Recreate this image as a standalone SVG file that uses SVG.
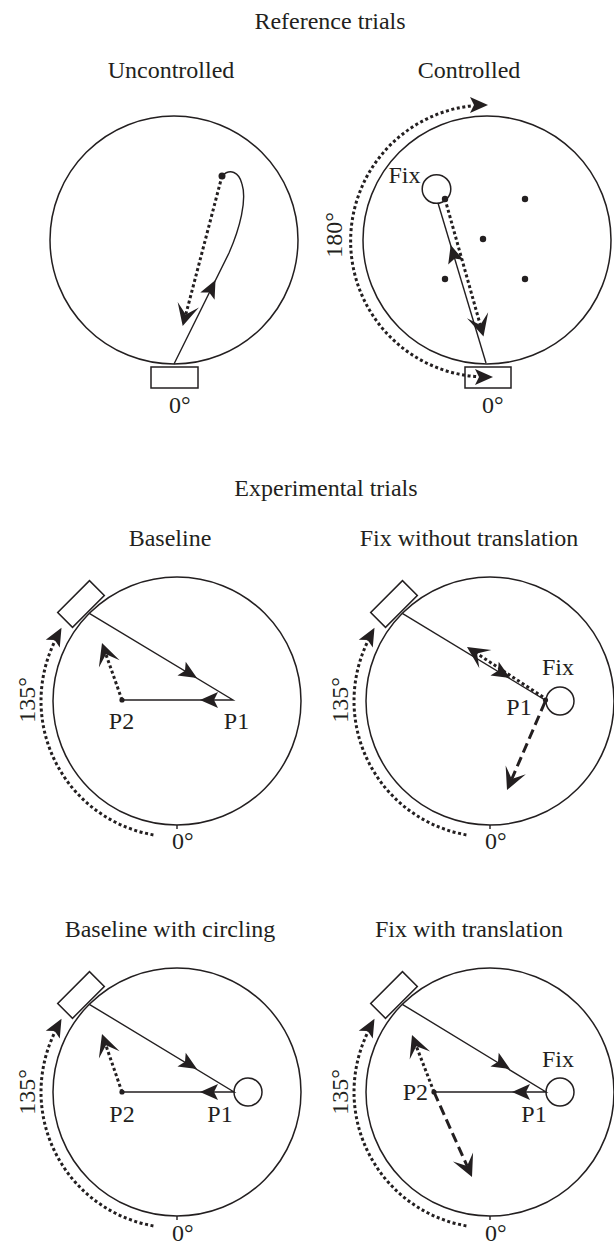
<svg xmlns="http://www.w3.org/2000/svg" width="614" height="1245" viewBox="0 0 614 1245">
<style>
.circ{fill:none;stroke:#231f20;stroke-width:1.5}
.ln{fill:none;stroke:#231f20;stroke-width:1.4}
.dt{fill:none;stroke:#231f20;stroke-width:3;stroke-dasharray:3 2.6}
.ds{fill:none;stroke:#231f20;stroke-width:3;stroke-dasharray:10 5}
.box{fill:none;stroke:#231f20;stroke-width:1.5}
.fill{fill:#231f20}
.t{font-family:"Liberation Serif","Times New Roman",serif;font-size:24px;fill:#231f20}
.m{text-anchor:middle}
.e{text-anchor:end}
</style>
<defs>
<path id="tri" d="M0,0 L-18,-8 L-14,0 L-18,8 Z" fill="#231f20"/>
<path id="vee" d="M0,0 L-22,-11 L-12,0 L-22,11 Z" fill="#231f20"/>
<rect id="bx" x="-22.5" y="-10.5" width="45" height="21" fill="none" stroke="#231f20" stroke-width="1.5"/>
</defs>

<g id="titles">
<text class="t m" x="330" y="29">Reference trials</text>
<text class="t m" x="326" y="496">Experimental trials</text>
</g>

<!-- Uncontrolled -->
<g id="uncontrolled">
<text class="t m" x="171" y="78">Uncontrolled</text>
<circle class="circ" cx="174" cy="240" r="124"/>
<rect class="box" x="151" y="367" width="47" height="21"/>
<text class="t" x="169" y="413">0°</text>
<g id="unc-connectors">
<path class="ln" d="M174,364 L229,253 C240,228 247,200 242,184 C239,172 230,168 222,176"/>
<use href="#tri" transform="translate(215.5,280) rotate(-63.4)"/>
<path class="dt" d="M222,176 L185.8,314.5"/>
<use href="#vee" transform="translate(182.7,326) rotate(104.7)"/>
</g>
<circle class="fill" cx="222" cy="176" r="3.5"/>
</g>

<!-- Controlled -->
<g id="controlled">
<text class="t m" x="469" y="78">Controlled</text>
<circle class="circ" cx="487" cy="240" r="124"/>
<rect class="box" x="465" y="367" width="46" height="21"/>
<text class="t" x="482" y="413">0°</text>
<circle class="circ" cx="436.5" cy="189" r="14.3"/>
<text class="t m" x="404.5" y="183">Fix</text>
<text class="t m" transform="translate(342,235) rotate(-90)">180°</text>
<circle class="fill" cx="445" cy="199" r="3.2"/>
<circle class="fill" cx="525" cy="199" r="3.2"/>
<circle class="fill" cx="483" cy="239" r="3.2"/>
<circle class="fill" cx="445" cy="279" r="3.2"/>
<circle class="fill" cx="525" cy="279" r="3.2"/>
<g id="con-connectors">
<path class="ln" d="M486,363 L438,203"/>
<use href="#tri" transform="translate(450.7,245) rotate(-106.7)"/>
<path class="dt" d="M445,199 L480.3,325"/>
<use href="#vee" transform="translate(483.5,336.5) rotate(74.4)"/>
<path class="dt" d="M476.1,376.6 A136,136 0 0 1 471.1,105.9"/>
<use href="#tri" transform="translate(488,105) rotate(0)"/>
<use href="#tri" transform="translate(493,377) rotate(0)"/>
</g>
</g>

<!-- Baseline -->
<g id="baseline">
<text class="t m" x="170" y="546">Baseline</text>
<circle class="circ" cx="177" cy="701" r="124"/>
<line class="ln" x1="177" y1="825" x2="177" y2="829"/>
<use href="#bx" transform="translate(81,604) rotate(-45)"/>
<text class="t" x="172" y="849">0°</text>
<text class="t m" transform="translate(35,700) rotate(-90)">135°</text>
<text class="t m" x="121.5" y="729">P2</text>
<text class="t m" x="236.5" y="729">P1</text>
<g id="bl-connectors">
<path class="ln" d="M89.3,613.3 L233,700 L122,700"/>
<use href="#tri" transform="translate(197,678) rotate(31.1)"/>
<use href="#tri" transform="translate(200,700) rotate(180)"/>
<path class="dt" d="M122,700 L105.9,654.3"/>
<use href="#vee" transform="translate(102,643) rotate(-109.3)"/>
<path class="dt" d="M153.4,834.9 A136,136 0 0 1 55.3,640.3"/>
<use href="#tri" transform="translate(61.5,627.8) rotate(-61)"/>
</g>
<circle class="fill" cx="122" cy="700" r="2.6"/>
</g>

<!-- Fix without translation -->
<g id="fix-without">
<text class="t m" x="469" y="546">Fix without translation</text>
<circle class="circ" cx="490" cy="701" r="124"/>
<line class="ln" x1="490" y1="825" x2="490" y2="829"/>
<use href="#bx" transform="translate(394,604) rotate(-45)"/>
<text class="t" x="485" y="849">0°</text>
<text class="t m" transform="translate(348,700) rotate(-90)">135°</text>
<circle class="circ" cx="560" cy="701" r="14"/>
<text class="t m" x="558" y="675">Fix</text>
<text class="t m" x="519" y="715">P1</text>
<g id="fw-connectors">
<path class="ln" d="M402.3,613.3 L545,700"/>
<use href="#tri" transform="translate(510,678) rotate(31.1)"/>
<path class="dt" d="M543,697 L477,653.6"/>
<use href="#vee" transform="translate(467,647) rotate(-146.7)"/>
<path class="ds" d="M545,702 L511.8,779"/>
<use href="#vee" transform="translate(507,790) rotate(113.4)"/>
<path class="dt" d="M466.4,834.9 A136,136 0 0 1 368.3,640.3"/>
<use href="#tri" transform="translate(374.5,627.8) rotate(-61)"/>
</g>
<circle class="fill" cx="545.5" cy="700" r="2.6"/>
</g>

<!-- Baseline with circling -->
<g id="baseline-circling">
<text class="t m" x="170" y="937">Baseline with circling</text>
<circle class="circ" cx="177" cy="1092" r="124"/>
<line class="ln" x1="177" y1="1216" x2="177" y2="1220"/>
<use href="#bx" transform="translate(81,995) rotate(-45)"/>
<text class="t" x="172" y="1241">0°</text>
<text class="t m" transform="translate(35,1092) rotate(-90)">135°</text>
<circle class="circ" cx="248" cy="1092" r="14"/>
<text class="t m" x="122" y="1122">P2</text>
<text class="t m" x="220" y="1122">P1</text>
<g id="bc-connectors">
<path class="ln" d="M89.3,1004.3 L234,1092 L122,1092"/>
<use href="#tri" transform="translate(197,1069) rotate(31.1)"/>
<use href="#tri" transform="translate(200,1092) rotate(180)"/>
<path class="dt" d="M122,1092 L105.9,1045.3"/>
<use href="#vee" transform="translate(102,1034) rotate(-109.3)"/>
<path class="dt" d="M153.4,1225.9 A136,136 0 0 1 55.3,1031.3"/>
<use href="#tri" transform="translate(61.5,1018.8) rotate(-61)"/>
</g>
<circle class="fill" cx="122" cy="1092" r="2.6"/>
</g>

<!-- Fix with translation -->
<g id="fix-with">
<text class="t m" x="469" y="937">Fix with translation</text>
<circle class="circ" cx="490" cy="1092" r="124"/>
<line class="ln" x1="490" y1="1216" x2="490" y2="1220"/>
<use href="#bx" transform="translate(394,995) rotate(-45)"/>
<text class="t" x="485" y="1241">0°</text>
<text class="t m" transform="translate(348,1092) rotate(-90)">135°</text>
<circle class="circ" cx="560" cy="1092" r="14"/>
<text class="t m" x="558" y="1067">Fix</text>
<text class="t e" x="428" y="1100">P2</text>
<text class="t m" x="534" y="1122">P1</text>
<g id="ft-connectors">
<path class="ln" d="M402.3,1004.3 L546,1092 L434,1092"/>
<use href="#tri" transform="translate(510,1069) rotate(31.1)"/>
<use href="#tri" transform="translate(512,1092) rotate(180)"/>
<path class="dt" d="M434,1092 L416.3,1046.2"/>
<use href="#vee" transform="translate(412,1035) rotate(-111.1)"/>
<path class="ds" d="M434,1092 L467.1,1166"/>
<use href="#vee" transform="translate(472,1177) rotate(65.9)"/>
<path class="dt" d="M466.4,1225.9 A136,136 0 0 1 368.3,1031.3"/>
<use href="#tri" transform="translate(374.5,1018.8) rotate(-61)"/>
</g>
<circle class="fill" cx="434" cy="1092" r="2.6"/>
</g>
</svg>
